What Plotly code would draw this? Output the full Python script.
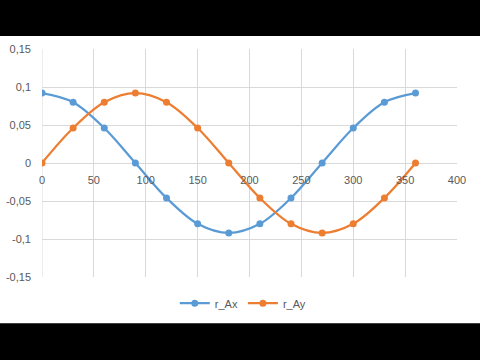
import plotly.graph_objects as go

angles = [0, 30, 60, 90, 120, 150, 180, 210, 240, 270, 300, 330, 360]
r_Ax = [0.092, 0.080, 0.046, 0.0, -0.046, -0.080, -0.092, -0.080, -0.046, 0.0, 0.046, 0.080, 0.092]
r_Ay = [0.0, 0.046, 0.080, 0.092, 0.080, 0.046, 0.0, -0.046, -0.080, -0.092, -0.080, -0.046, 0.0]
y_ticks = [-0.15, -0.1, -0.05, 0, 0.05, 0.1, 0.15]
y_labels = ["-0,15", "-0,1", "-0,05", "0", "0,05", "0,1", "0,15"]
x_ticks = [0, 50, 100, 150, 200, 250, 300, 350, 400]

BLUE = "#5B9BD5"
ORANGE = "#ED7D31"

fig = go.Figure()
fig.add_trace(go.Scatter(x=angles, y=r_Ax, name="r_Ax", mode="lines+markers",
                         line=dict(color=BLUE, width=2.25, shape="spline"),
                         marker=dict(color=BLUE, size=7)))
fig.add_trace(go.Scatter(x=angles, y=r_Ay, name="r_Ay", mode="lines+markers",
                         line=dict(color=ORANGE, width=2.25, shape="spline"),
                         marker=dict(color=ORANGE, size=7)))

grid = "#D9D9D9"
fig.update_layout(
    width=480, height=360,
    margin=dict(l=42, r=23, t=49, b=83, autoexpand=False),
    paper_bgcolor="white", plot_bgcolor="white",
    font=dict(family="Liberation Sans", size=11, color="#595959"),
    xaxis=dict(range=[0, 400], tickvals=x_ticks, showgrid=True, gridcolor=grid,
               gridwidth=1, zeroline=False, showline=False, anchor="free",
               position=0.5, ticklabelstandoff=9, fixedrange=True, automargin=False),
    yaxis=dict(range=[-0.15, 0.15], tickvals=y_ticks, ticktext=y_labels,
               showgrid=True, gridcolor=grid, gridwidth=1, zeroline=True,
               zerolinecolor=grid, zerolinewidth=1, showline=False,
               ticklabelstandoff=10, automargin=False),
    legend=dict(orientation="h", x=0.485, xanchor="center", y=-0.115,
                yanchor="middle", font=dict(size=11, color="#595959")),
    showlegend=True,
    shapes=[
        dict(type="line", xref="x", yref="paper", x0=0, x1=0, y0=0, y1=1,
             line=dict(color=grid, width=1), layer="below"),
        dict(type="rect", xref="paper", yref="paper", x0=-0.2, x1=1.2,
             y0=1.057, y1=1.3, fillcolor="black", line=dict(width=0), layer="above"),
        dict(type="rect", xref="paper", yref="paper", x0=-0.2, x1=1.2,
             y0=-0.5, y1=-0.2025, fillcolor="black", line=dict(width=0), layer="above"),
    ],
)

fig.write_html("out.html")
